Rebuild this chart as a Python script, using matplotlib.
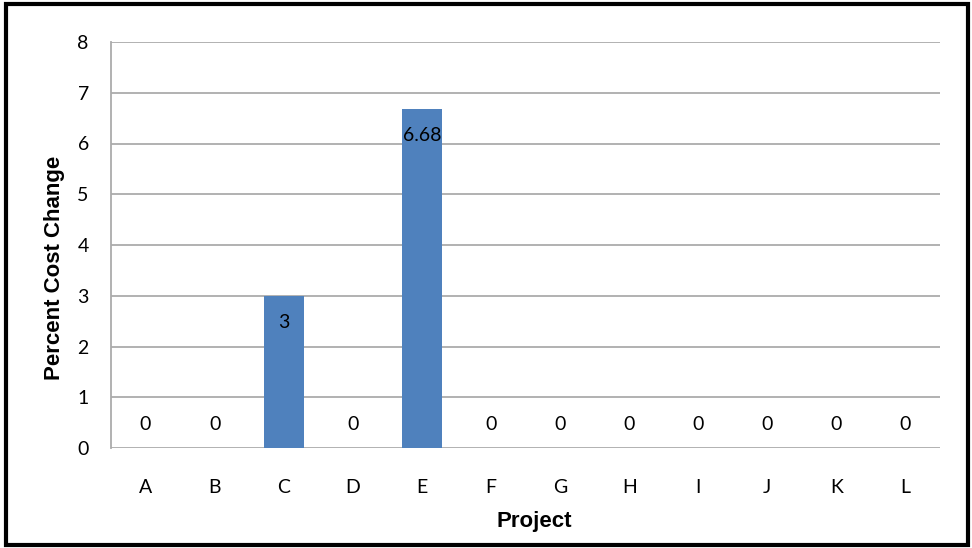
import matplotlib
matplotlib.use("Agg")
import matplotlib.pyplot as plt
from matplotlib.patches import Rectangle

projects = ["A", "B", "C", "D", "E", "F", "G", "H", "I", "J", "K", "L"]
pct_change = [0, 0, 3, 0, 6.68, 0, 0, 0, 0, 0, 0, 0]
y_ticks = [0, 1, 2, 3, 4, 5, 6, 7, 8]

plt.rcParams["font.family"] = ["Lato", "DejaVu Sans"]

fig = plt.figure(figsize=(9.72, 5.48), dpi=100)
ax = fig.add_axes([111 / 972, 1 - 448 / 548, (940 - 111) / 972, (448 - 42) / 548])

x = range(len(projects))
bars = ax.bar(x, pct_change, width=0.58, color="#4F81BD", zorder=3)

ax.set_xlim(-0.5, len(projects) - 0.5)
ax.set_ylim(0, 8)
ax.set_yticks(y_ticks)
ax.set_xticks(list(x))
ax.set_xticklabels(projects)
ax.yaxis.grid(True, color="#ABABAB", linewidth=1.3, zorder=0)
ax.tick_params(axis="both", length=0, labelsize=14)
ax.tick_params(axis="x", pad=22)
ax.tick_params(axis="y", pad=16)

for side in ("top", "right", "bottom"):
    ax.spines[side].set_visible(False)
ax.spines["left"].set_color("#ABABAB")
ax.spines["left"].set_linewidth(1.3)

for rect, v in zip(bars, pct_change):
    cx = rect.get_x() + rect.get_width() / 2
    dy = -19 if v > 0 else 17
    ax.annotate(f"{v:g}", (cx, v), xytext=(0, dy), textcoords="offset points",
                ha="center", va="center", fontsize=14, color="black", zorder=4)

label_font = dict(family=["Liberation Sans", "DejaVu Sans"], fontsize=16, fontweight="bold")
ax.set_xlabel("Project", va="center", ha="center", **label_font)
ax.set_ylabel("Percent Cost Change", va="center", ha="center", **label_font)
ax.xaxis.set_label_coords(0.511, -0.18)
ax.yaxis.set_label_coords(-0.068, 0.443)

fig.patches.append(Rectangle((6 / 972, 3 / 548), (968 - 6) / 972, (544 - 3) / 548,
                             transform=fig.transFigure, fill=False,
                             edgecolor="black", linewidth=3))

fig.savefig("out.png", dpi=100)
